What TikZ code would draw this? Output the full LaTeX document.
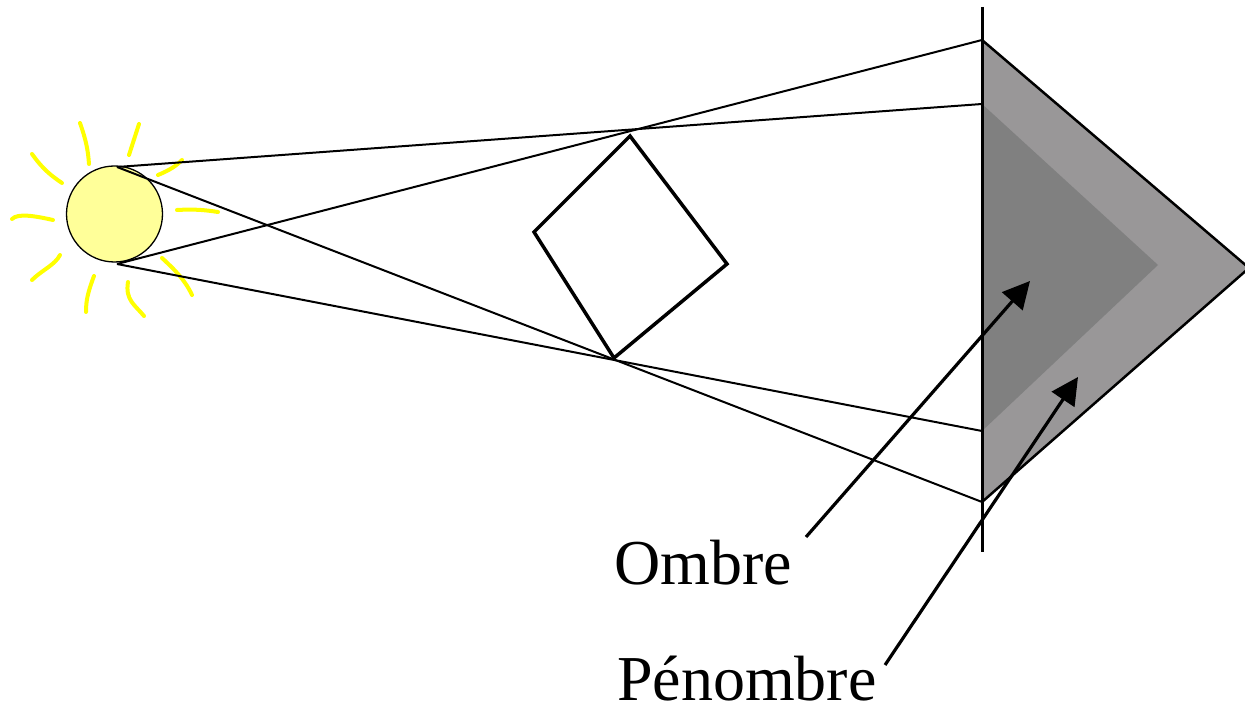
\documentclass[tikz,border=0pt]{standalone}
\usepackage{fontspec}
\setmainfont{Liberation Serif}
\usetikzlibrary{arrows.meta}
\definecolor{penumbra}{RGB}{153,151,152}
\definecolor{umbra}{RGB}{128,128,128}
\definecolor{sunfill}{RGB}{255,255,153}
\definecolor{ray}{RGB}{255,255,0}
\tikzset{
  beam/.style={line width=2pt, black},
  raystroke/.style={line width=4pt, ray, line cap=round},
  pointer/.style={line width=3.2pt, -{Triangle[length=27pt,width=27pt]}},
  label/.style={font=\fontsize{64}{64}\selectfont, anchor=base west, inner sep=0pt}
}
\begin{document}
\begin{tikzpicture}[x=1pt,y=-1pt]
\useasboundingbox (0,0) rectangle (1245,708);

% key points
\coordinate (sunT) at (117,167);
\coordinate (sunB) at (117,264);
\coordinate (scrTop) at (982,7);
\coordinate (scrBot) at (982,552);
\coordinate (p1) at (982,40);
\coordinate (u1) at (982,104);
\coordinate (u2) at (982,431);
\coordinate (p2) at (982,502);
\coordinate (papex) at (1249,268);
\coordinate (uapex) at (1158,265);

% sun rays
\draw[raystroke] (80,123) .. controls (86,140) and (88,150) .. (89,164);
\draw[raystroke] (139,124) -- (129,155);
\draw[raystroke] (32,154) .. controls (42,168) and (50,175) .. (62,183);
\draw[raystroke] (158,175) .. controls (170,170) and (176,166) .. (182,160);
\draw[raystroke] (12,219) .. controls (18,213) and (35,216) .. (53,220);
\draw[raystroke] (177,210) .. controls (195,209) and (205,210) .. (218,212);
\draw[raystroke] (60,255) .. controls (55,265) and (42,270) .. (32,280);
\draw[raystroke] (94,276) .. controls (88,292) and (86,300) .. (86,312);
\draw[raystroke] (128,282) .. controls (125,300) and (135,305) .. (144,316);
\draw[raystroke] (162,258) .. controls (175,270) and (185,280) .. (192,295);

% sun
\node[circle, draw=black, line width=1.3pt, fill=sunfill, minimum size=96pt, inner sep=0pt] (sun) at (114.5,214) {};

% shadows on the screen
\fill[penumbra] (p1) -- (papex) -- (p2) -- cycle;
\fill[umbra] (u1) -- (uapex) -- (u2) -- cycle;
\draw[line width=2.5pt, line join=miter] (p1) -- (papex) -- (p2);

% screen
\draw[line width=3pt] (scrTop) -- (scrBot);

% light rays from the sun edges
\draw[beam] (sunT) -- (u1);
\draw[beam] (sunB) -- (p1);
\draw[beam] (sunT) -- (p2);
\draw[beam] (sunB) -- (u2);

% obstacle
\coordinate (qT) at (630,136);
\coordinate (qR) at (727,264);
\coordinate (qB) at (614,358);
\coordinate (qL) at (534,232);
\draw[line width=3.5pt, line join=miter] (qT) -- (qR) -- (qB) -- (qL) -- cycle;

% labels and pointers
\node[label] (ombre) at (614,584) {Ombre};
\node[label] (penombre) at (617,700) {Pénombre};
\coordinate (ombreTail) at (806,537);
\coordinate (ombreTip) at (1030,281);
\coordinate (penTail) at (885,665);
\coordinate (penTip) at (1078,377);
\draw[pointer] (ombreTail) -- (ombreTip);
\draw[pointer] (penTail) -- (penTip);
\end{tikzpicture}
\end{document}
